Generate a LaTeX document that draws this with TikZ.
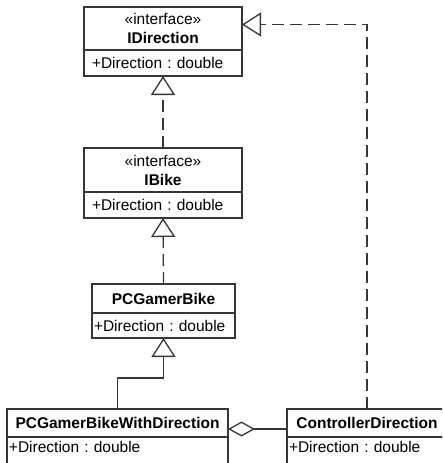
\documentclass[tikz,border=0pt]{standalone}
\usepackage{fontspec}
\setmainfont{Liberation Sans}
\usetikzlibrary{positioning,arrows.meta}
\definecolor{umlline}{RGB}{55,55,55}
\frenchspacing

\begin{document}
\begin{tikzpicture}[x=1pt, y=-1pt,
		box/.style={draw=umlline, line width=1.3pt, fill=white, inner sep=0pt, outer sep=0pt, font=\fontsize{15.5}{19}\selectfont},
		classname/.style={box, align=center},
		classattr/.style={box, align=left, inner xsep=2pt},
		realize/.style={draw=umlline, line width=1.3pt, dash pattern=on 12pt off 6pt, -{Triangle[open, length=19pt, width=24pt]}},
		inherit/.style={draw=umlline, line width=1.3pt, -{Triangle[open, length=19pt, width=24pt]}},
		aggr/.style={draw=umlline, line width=1.3pt, {Diamond[open, length=27pt, width=15pt]}-}]
		%%%%% START %%%%%
		
		\useasboundingbox (0, 0) rectangle (442, 463);
		\clip (0, 0) rectangle (442, 463);
		
		% interfaces
		\node[classname, minimum width=158pt, minimum height=43pt, anchor=north west] (idir) at (84, 7) {«interface»\\\textbf{IDirection}};
		\node[classattr, text width=142pt, inner xsep=8pt, minimum height=26pt, below=0pt of idir] (idirAttr) {+Direction : double};
		
		\node[classname, minimum width=158pt, minimum height=44pt, anchor=north west] (ibike) at (84, 148) {«interface»\\\textbf{IBike}};
		\node[classattr, text width=142pt, inner xsep=8pt, minimum height=26pt, below=0pt of ibike] (ibikeAttr) {+Direction : double};
		
		% classes
		\node[classname, minimum width=143pt, minimum height=29pt, anchor=north west] (pcgb) at (92, 284) {\textbf{PCGamerBike}};
		\node[classattr, text width=139pt, minimum height=25pt, below=0pt of pcgb] (pcgbAttr) {+Direction : double};
		
		\node[classname, minimum width=221pt, minimum height=28pt, anchor=north west] (pcgbwd) at (7, 409) {\textbf{PCGamerBikeWithDirection}};
		\node[classattr, text width=217pt, text depth=10pt, minimum height=30pt, below=0pt of pcgbwd] (pcgbwdAttr) {+Direction : double};
		
		\node[classname, minimum width=160pt, minimum height=28pt, anchor=north west] (cdir) at (287, 409) {\textbf{ControllerDirection}};
		\node[classattr, text width=156pt, text depth=10pt, minimum height=30pt, below=0pt of cdir] (cdirAttr) {+Direction : double};
		
		% relations
		\draw[realize] (ibike.north) -- (idirAttr.south);
		\draw[realize] (pcgb.north) -- (ibikeAttr.south);
		\draw[inherit] (pcgbwd.north) -- ++(0, -31) -| (pcgbAttr.south);
		\draw[realize] (cdir.north) |- ([yshift=4pt]idir.east);
		\draw[aggr] ([yshift=-6pt]pcgbwd.east) -- ([yshift=-6pt]cdir.west);
		
		%%%%% END %%%%%
	\end{tikzpicture}
\end{document}
